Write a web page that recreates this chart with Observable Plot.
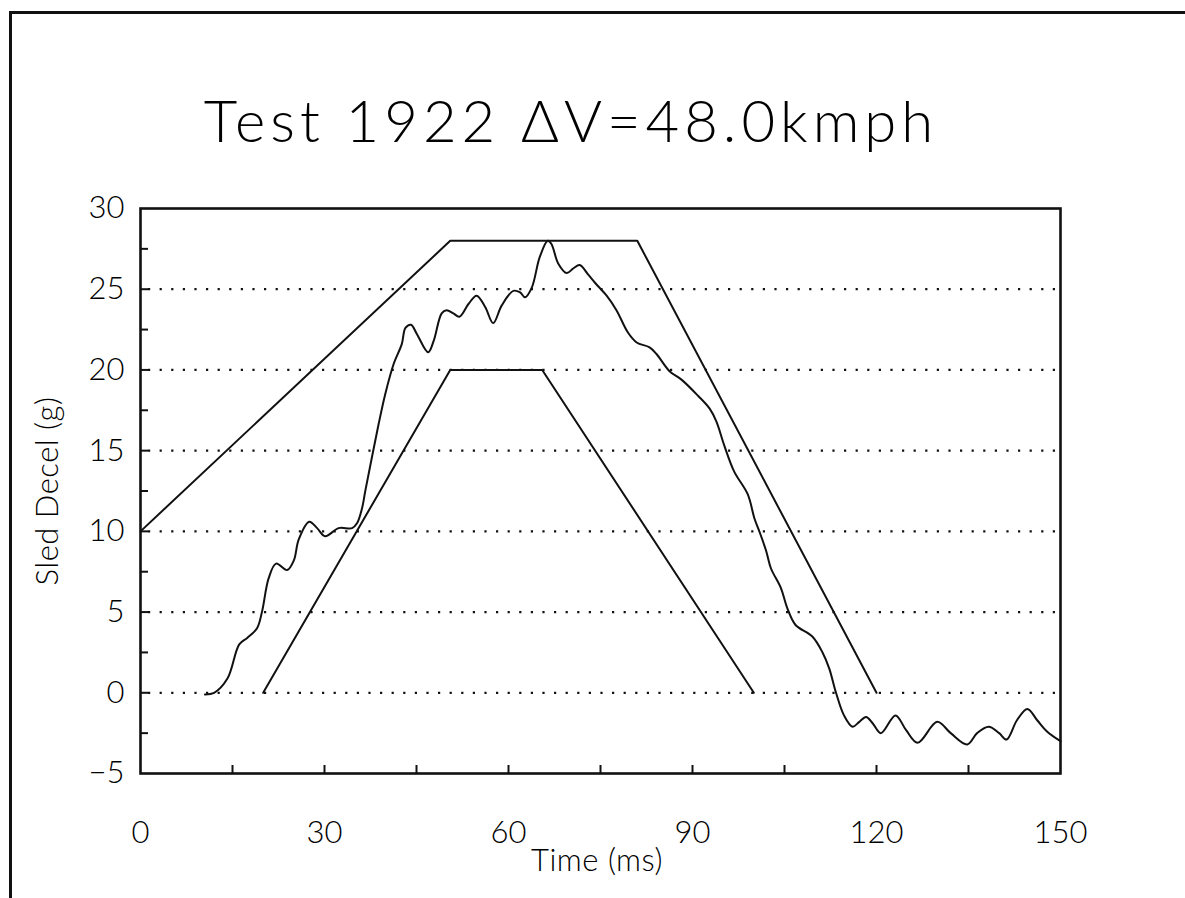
<!DOCTYPE html>
<html><head><meta charset="utf-8">
<script src="https://cdn.jsdelivr.net/npm/d3@7"></script>
<script src="https://cdn.jsdelivr.net/npm/@observablehq/plot@0.6"></script>
<style>
html,body{margin:0;padding:0;background:#fff;overflow:hidden;}
#wrap{position:relative;width:1185px;height:898px;overflow:hidden;font-family:Lato,"Liberation Sans",sans-serif;color:#000;}
#hline{position:absolute;left:9px;top:11px;width:1176px;height:3px;background:#111;}
#vline{position:absolute;left:9px;top:11px;width:3px;height:887px;background:#111;}
#title{position:absolute;left:0;width:1142px;top:91px;text-align:center;font-size:58px;font-weight:300;letter-spacing:5px;line-height:1;white-space:nowrap;}
#xlabel{position:absolute;left:0;width:1194px;top:844px;text-align:center;font-size:31px;font-weight:300;letter-spacing:0.5px;line-height:1;white-space:nowrap;}
#ylabel{position:absolute;left:46px;top:491px;transform:translate(-50%,-50%) rotate(-90deg);font-size:31px;font-weight:300;letter-spacing:0.5px;line-height:1;white-space:nowrap;}
#chart{position:absolute;left:0;top:0;}
</style>
</head><body>
<div id="wrap">
  <div id="hline"></div>
  <div id="vline"></div>
  <div id="chart"></div>
  <div id="title">Test 1922 ΔV=48.0kmph</div>
  <div id="xlabel">Time (ms)</div>
  <div id="ylabel">Sled Decel (g)</div>
</div>
<script>
// Corridor (upper) trapezoid
const upperT = [0, 50.5, 81, 120];
const upperG = [10, 28, 28, 0];
// Corridor (lower) trapezoid
const lowerT = [20, 50.5, 65.5, 100];
const lowerG = [0, 20, 20, 0];
// Measured sled deceleration
const measT = [10.5, 12, 14.2, 16.1, 17.4, 19.0, 19.8, 20.9, 22.1, 23.9, 25.0, 25.8, 27.5, 28.8, 30.1, 32.3, 34.5, 35.3, 36.1, 36.7, 38.8, 39.9, 41.3, 42.6, 43.2, 44.1, 45.1, 46.9, 47.8, 49.1, 49.9, 51.0, 52.0, 53.5, 54.8, 56.2, 57.5, 58.9, 60.8, 61.9, 62.7, 63.8, 65.1, 66.4, 67.0, 68.1, 69.5, 70.6, 71.6, 73.0, 74.1, 76.0, 77.6, 79.5, 80.9, 83.0, 84.1, 86.3, 88.2, 90.9, 92.8, 93.9, 95.2, 96.8, 99.0, 100.1, 100.9, 102.0, 102.8, 104.4, 105.5, 106.8, 109.5, 111.2, 112.3, 113.4, 114.7, 116.1, 117.2, 118.3, 119.4, 120.7, 123.1, 124.8, 126.7, 129.9, 132.1, 134.8, 136.4, 138.3, 140.0, 141.2, 142.9, 144.6, 146.2, 147.8, 150];
const measG = [-0.1, 0, 0.9, 3.0, 3.4, 4.0, 5.0, 7.1, 8.0, 7.6, 8.2, 9.5, 10.6, 10.2, 9.7, 10.2, 10.2, 10.5, 11.4, 12.6, 16.6, 18.5, 20.4, 21.6, 22.6, 22.8, 22.2, 21.1, 21.8, 23.5, 23.7, 23.5, 23.3, 24.1, 24.6, 23.9, 22.9, 24.0, 24.9, 24.8, 24.5, 25.1, 27.0, 28.0, 27.8, 26.6, 26.0, 26.3, 26.5, 25.9, 25.4, 24.6, 23.7, 22.3, 21.7, 21.4, 21.0, 19.9, 19.4, 18.4, 17.6, 16.8, 15.3, 13.7, 12.3, 10.8, 10.0, 8.8, 7.7, 6.5, 5.2, 4.2, 3.5, 2.5, 1.5, 0, -1.4, -2.1, -1.8, -1.5, -1.9, -2.5, -1.4, -2.3, -3.1, -1.8, -2.5, -3.2, -2.5, -2.1, -2.5, -2.9, -1.7, -1.0, -1.7, -2.4, -3.0];

const xTickLabels = [0, 30, 60, 90, 120, 150];
const xMinorTicks = [15, 30, 45, 60, 75, 90, 105, 120, 135];
const yTickLabels = [-5, 0, 5, 10, 15, 20, 25, 30];
const yMinorTicks = [-2.5, 0, 2.5, 5, 7.5, 10, 12.5, 15, 17.5, 20, 22.5, 25, 27.5];
const gridLines = [0, 5, 10, 15, 20, 25];

const zip = (a, b) => a.map((v, i) => ({t: v, g: b[i]}));
const upper = zip(upperT, upperG);
const lower = zip(lowerT, lowerG);
const meas = zip(measT, measG);

const W = 1185, H = 898, mL = 140, mR = 125, mT = 208, mB = 125;
const plotW = W - mL - mR, plotH = H - mT - mB;
const ink = "#111";

const chart = Plot.plot({
  width: W, height: H,
  marginLeft: mL, marginRight: mR, marginTop: mT, marginBottom: mB,
  style: {background: "transparent", fontFamily: "Lato, 'Liberation Sans', sans-serif", fontWeight: 300, color: "#000"},
  x: {domain: [0, 150]},
  y: {domain: [-5, 30]},
  marks: [
    Plot.ruleY(gridLines, {y: d => d, stroke: ink, strokeWidth: 2.2, strokeDasharray: "2.2,9.4", insetLeft: 8}),
    Plot.tickY(yMinorTicks, {y: d => d, stroke: ink, strokeWidth: 2, insetRight: plotW - 8}),
    Plot.tickX(xMinorTicks, {x: d => d, stroke: ink, strokeWidth: 2, insetTop: plotH - 8}),
    Plot.line(upper, {x: "t", y: "g", stroke: ink, strokeWidth: 2}),
    Plot.line(lower, {x: "t", y: "g", stroke: ink, strokeWidth: 2}),
    Plot.line(meas, {x: "t", y: "g", stroke: ink, strokeWidth: 2, curve: "catmull-rom"}),
    Plot.frame({stroke: ink, strokeWidth: 2.6}),
    Plot.axisY({ticks: yTickLabels, tickSize: 0, tickPadding: 16, fontSize: 31, label: null}),
    Plot.axisX({ticks: xTickLabels, tickSize: 0, tickPadding: 47, fontSize: 31, label: null})
  ]
});
document.getElementById("chart").appendChild(chart);
</script>
</body></html>
